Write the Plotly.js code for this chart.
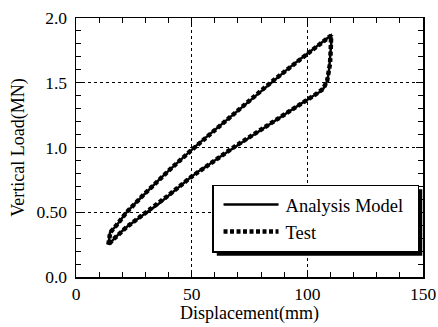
<!DOCTYPE html>
<html>
<head>
<meta charset="utf-8">
<script src="https://cdn.plot.ly/plotly-3.0.1.min.js"></script>
<style>
  html, body { margin: 0; padding: 0; background: #ffffff; }
  #chart { width: 438px; height: 327px; }
</style>
</head>
<body>
<div id="chart"></div>
<script>
// Load–displacement hysteresis loop: loading along the upper branch,
// unloading down the right-hand side and back along the lower branch.
const modelDisp = [
  14.0, 14.2, 14.7, 16.0, 17.6, 19.7, 21.9, 25.0, 28.5, 32.0, 36.5, 41.4, 45.5, 49.6,
  53.0, 58.0, 63.7, 69.5, 74.0, 78.1, 82.4, 87.0, 91.5, 96.0, 100.0, 104.0, 107.5, 110.2,
  110.5, 110.1, 109.8, 109.3, 108.6, 107.8, 106.9, 105.5, 104.0, 102.0, 99.7, 97.0, 94.0,
  90.0, 85.0, 80.0, 75.0, 68.0, 62.0, 56.0, 52.9, 49.6, 44.0, 39.2, 35.0, 30.6, 26.0,
  21.9, 19.0, 16.1, 14.0
];
const modelLoad = [
  0.25, 0.30, 0.345, 0.37, 0.40, 0.45, 0.50, 0.558, 0.622, 0.684, 0.762, 0.843, 0.91, 0.975,
  1.03, 1.105, 1.19, 1.28, 1.35, 1.41, 1.475, 1.54, 1.605, 1.67, 1.725, 1.78, 1.83, 1.865,
  1.84, 1.75, 1.646, 1.58, 1.518, 1.48, 1.454, 1.43, 1.415, 1.39, 1.365, 1.335, 1.30,
  1.255, 1.20, 1.14, 1.08, 1.00, 0.925, 0.85, 0.815, 0.77, 0.69, 0.62, 0.555, 0.50, 0.44,
  0.386, 0.34, 0.29, 0.25
];

const testDisp = [
  14.0, 14.3, 14.8, 17.5, 21.9, 28.5, 32.0, 41.4, 49.6, 58.0, 63.7, 69.5, 78.1, 82.4,
  91.5, 100.0, 107.5, 110.3, 110.1, 109.8, 108.6, 106.9, 104.0, 99.7, 94.0, 85.0,
  75.0, 68.0, 56.0, 49.6, 39.2, 30.6, 21.9, 16.1, 14.0
];
const testLoad = [
  0.25, 0.30, 0.345, 0.40, 0.50, 0.622, 0.684, 0.843, 0.975, 1.105, 1.19, 1.28, 1.41, 1.475,
  1.605, 1.725, 1.83, 1.865, 1.75, 1.646, 1.518, 1.454, 1.415, 1.365, 1.30, 1.20,
  1.08, 1.00, 0.85, 0.77, 0.62, 0.50, 0.386, 0.29, 0.25
];

const xTickVals = [0, 50, 100, 150];
const xTickText = ['0', '50', '100', '150'];
const yTickVals = [0, 0.5, 1.0, 1.5, 2.0];
const yTickText = ['0.0', '0.50', '1.0', '1.5', '2.0'];

const serif = 'Liberation Serif, Times New Roman, serif';

const traces = [
  {
    x: modelDisp, y: modelLoad, name: 'Analysis Model',
    type: 'scatter', mode: 'lines',
    line: { color: '#000000', width: 2.5 }
  },
  {
    x: testDisp, y: testLoad, name: 'Test',
    type: 'scatter', mode: 'lines',
    line: { color: '#000000', width: 4.5, dash: '4px,2.5px' }
  }
];

function axisBase() {
  return {
    showline: true, linecolor: '#000000', linewidth: 1.5,
    mirror: 'ticks',
    ticks: 'inside', ticklen: 7, tickwidth: 1, tickcolor: '#000000',
    showgrid: true, gridcolor: '#000000', gridwidth: 1, griddash: '3px,3px',
    zeroline: false,
    tickfont: { family: serif, size: 17.5, color: '#000000' },
    tickmode: 'array'
  };
}

const xaxis = Object.assign(axisBase(), {
  range: [0, 150], tickvals: xTickVals, ticktext: xTickText,
  minor: { dtick: 10, tick0: 0, ticks: 'inside', ticklen: 5, tickwidth: 1, tickcolor: '#000000', showgrid: false },
  title: { text: 'Displacement(mm)', font: { family: serif, size: 18, color: '#000000' }, standoff: 3 }
});

const yaxis = Object.assign(axisBase(), {
  range: [0, 2.0], tickvals: yTickVals, ticktext: yTickText,
  ticklabelstandoff: 4,
  minor: { dtick: 0.1, tick0: 0, ticks: 'inside', ticklen: 5, tickwidth: 1, tickcolor: '#000000', showgrid: false },
  title: { text: 'Vertical Load(MN)', font: { family: serif, size: 18, color: '#000000' }, standoff: 7 }
});

const layout = {
  width: 438, height: 327,
  margin: { l: 76, r: 15, t: 18, b: 50 },
  paper_bgcolor: '#ffffff', plot_bgcolor: '#ffffff',
  showlegend: true,
  legend: {
    x: 0.392, y: 0.357, xanchor: 'left', yanchor: 'top',
    bgcolor: '#ffffff', bordercolor: '#000000', borderwidth: 1.5,
    font: { family: serif, size: 18.5, color: '#000000' },
    itemwidth: 62, tracegroupgap: 0
  },
  xaxis: xaxis,
  yaxis: yaxis
};

const gd = document.getElementById('chart');
Plotly.newPlot(gd, traces, layout, { staticPlot: true, displayModeBar: false }).then(function () {
  // Extra right-hand padding inside the legend box.
  const bg = gd.querySelector('.legend .bg');
  bg.setAttribute('width', parseFloat(bg.getAttribute('width')) + 9);

  // Drop shadow behind the legend box, offset to the lower right.
  const box = gd.getBoundingClientRect();
  const bb = bg.getBoundingClientRect();
  const s = gd._fullLayout._size;
  const off = 4;
  const left = bb.left - box.left + off, right = bb.right - box.left + off;
  const top = bb.top - box.top + off, bottom = bb.bottom - box.top + off;
  return Plotly.relayout(gd, {
    shapes: [{
      type: 'rect', xref: 'paper', yref: 'paper', layer: 'above',
      x0: (left - s.l) / s.w, x1: (right - s.l) / s.w,
      y0: 1 - (bottom - s.t) / s.h, y1: 1 - (top - s.t) / s.h,
      fillcolor: '#000000', line: { width: 0 }
    }]
  });
}).then(function () {
  // Longer legend line samples.
  gd.querySelectorAll('.legend .legendlines path').forEach(function (p) {
    p.setAttribute('d', 'M10,0h55');
  });
});
</script>
</body>
</html>
